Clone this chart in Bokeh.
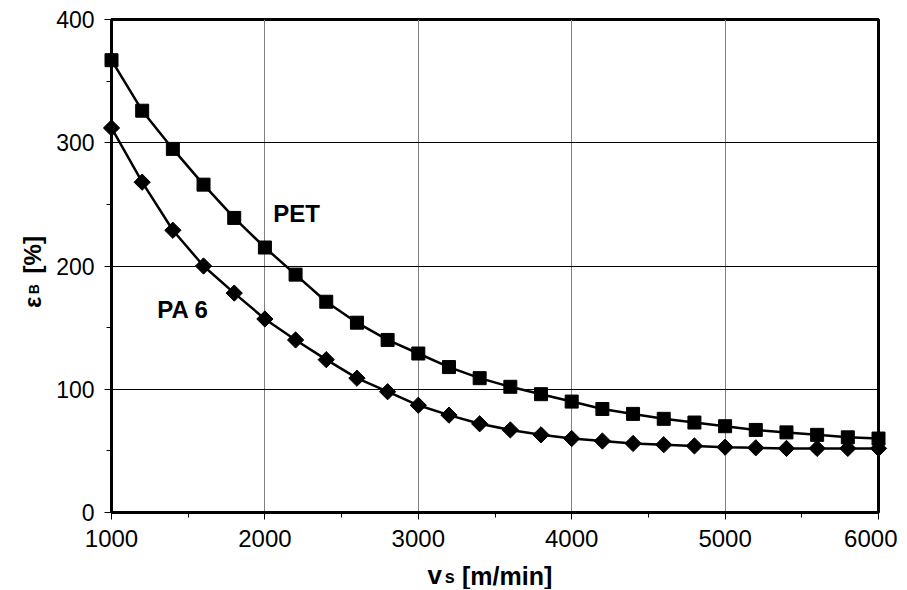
from bokeh.plotting import figure
from bokeh.models import Range1d, SingleIntervalTicker
from bokeh.core.properties import value
from bokeh.embed import file_html
from bokeh.resources import INLINE
import math

# ---- data ----
vs = [1000, 1200, 1400, 1600, 1800, 2000, 2200, 2400, 2600, 2800, 3000,
      3200, 3400, 3600, 3800, 4000, 4200, 4400, 4600, 4800, 5000,
      5200, 5400, 5600, 5800, 6000]
pet = [367, 326, 295, 266, 239, 215, 193, 171, 154, 140, 129,
       118, 109, 102, 96, 90, 84, 80, 76, 73, 70,
       67, 65, 63, 61, 60]
pa6 = [312, 268, 229, 200, 178, 157, 140, 124, 109, 98, 87,
       79, 72, 67, 63, 60, 58, 56, 55, 54, 53,
       52.5, 52, 52, 52, 52]
x_ticks_interval = 1000
y_ticks_interval = 100

FONT = "Liberation Sans"

p = figure(width=897, height=589,
           x_range=Range1d(1000, 6000), y_range=Range1d(0, 400),
           output_backend="svg", toolbar_location=None,
           min_border_left=111, min_border_right=19,
           min_border_top=19, min_border_bottom=77)

p.background_fill_color = "white"
p.border_fill_color = "white"
p.outline_line_color = "black"
p.outline_line_width = 3

p.xaxis.ticker = SingleIntervalTicker(interval=x_ticks_interval, num_minor_ticks=2)
p.yaxis.ticker = SingleIntervalTicker(interval=y_ticks_interval, num_minor_ticks=2)

for ax in (p.xaxis, p.yaxis):
    ax.axis_line_color = "black"
    ax.axis_line_width = 3
    ax.major_tick_line_color = "black"
    ax.minor_tick_line_color = "black"
    ax.major_tick_line_width = 1
    ax.minor_tick_line_width = 1
    ax.major_tick_in = 0
    ax.major_tick_out = 7
    ax.minor_tick_in = 0
    ax.minor_tick_out = 5
    ax.major_label_text_font = FONT
    ax.major_label_text_color = "black"
    ax.major_label_standoff = 10
p.xaxis.major_label_text_font_size = "24px"
p.yaxis.major_label_text_font_size = "23px"

p.xgrid.grid_line_color = "#808080"
p.xgrid.grid_line_width = 1
p.ygrid.grid_line_color = "black"
p.ygrid.grid_line_width = 1

# series
p.line(vs, pet, line_color="black", line_width=2.5)
p.line(vs, pa6, line_color="black", line_width=2.5)
r1 = p.scatter(vs, pet, marker="square", size=13, fill_color="black", line_color="black")
r2 = p.scatter(vs, pa6, marker="square", size=11.5, angle=math.pi / 4,
               fill_color="black", line_color="black")
r1.level = "overlay"
r2.level = "overlay"


def txt(x, y, s, size, angle=0.0):
    r = p.text(x=[x], y=[y], text=[s], angle=angle,
               text_font=value(FONT), text_font_size=size, text_font_style="bold",
               text_color="black", text_baseline="alphabetic", text_align="left")
    r.level = "overlay"
    return r


# series labels
txt(2054, 243, "PET", "24px")
txt(1298, 165, "PA 6", "24px")

# x axis title: v_s [m/min]
txt(3060, -51.1, "v", "26px")
txt(3172, -52.7, "s", "18px")
txt(3285, -51.9, "[m/min]", "25px")

# y axis title: eps_B [%]  (rotated)
txt(485, 166, "ε", "24px", math.pi / 2)
txt(494, 177, "B", "14px", math.pi / 2)
txt(485, 194, "[%]", "24px", math.pi / 2)

open("out.html", "w").write(file_html(p, INLINE))
